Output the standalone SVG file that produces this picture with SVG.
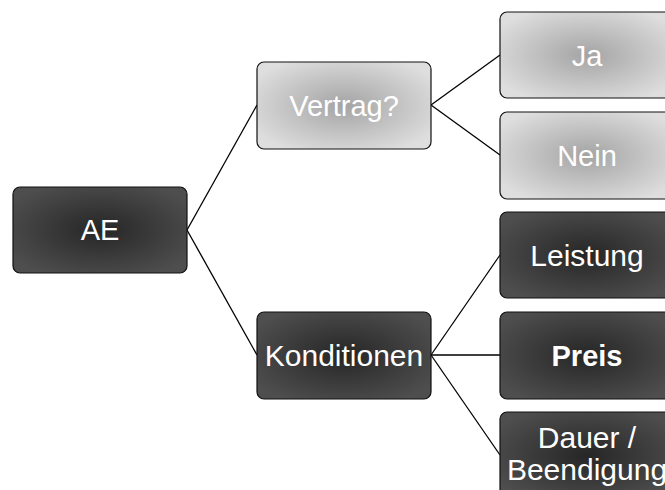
<svg xmlns="http://www.w3.org/2000/svg" width="665" height="490" viewBox="0 0 665 490">
<defs>
<radialGradient id="gDark" cx="50%" cy="50%" r="60%">
<stop offset="0" stop-color="#262626"/>
<stop offset="1" stop-color="#4e4e4e"/>
</radialGradient>
<radialGradient id="gLight" cx="50%" cy="50%" r="60%">
<stop offset="0" stop-color="#a4a4a4"/>
<stop offset="1" stop-color="#dedede"/>
</radialGradient>
<style>
.dark{fill:url(#gDark);stroke:#111;stroke-width:1.2}
.light{fill:url(#gLight);stroke:#111;stroke-width:1.2}
.t{font-family:"Liberation Sans",Arial,sans-serif;font-size:29px;fill:#fff;text-anchor:middle}
.b{font-weight:bold}
.c{stroke:#000;stroke-width:1.3;fill:none}
</style>
</defs>
<rect width="665" height="490" fill="#fff"/>
<g id="connectors">
<line class="c" x1="187" y1="230" x2="257" y2="105"/>
<line class="c" x1="187" y1="230" x2="257" y2="355"/>
<line class="c" x1="431" y1="105" x2="500" y2="55"/>
<line class="c" x1="431" y1="105" x2="500" y2="155"/>
<line class="c" x1="431" y1="355" x2="500" y2="255"/>
<line class="c" x1="431" y1="355" x2="500" y2="355"/>
<line class="c" x1="431" y1="355" x2="500" y2="455"/>
</g>
<g id="ae">
<rect class="dark" x="13" y="187" width="174" height="86" rx="7"/>
<text class="t" x="100" y="240">AE</text>
</g>
<g id="vertrag">
<rect class="light" x="257" y="62" width="174" height="87" rx="7"/>
<text class="t" x="344" y="115.5">Vertrag?</text>
</g>
<g id="konditionen">
<rect class="dark" x="257" y="312" width="174" height="87" rx="7"/>
<text class="t" x="344" y="365.5" style="font-size:30px">Konditionen</text>
</g>
<g id="ja">
<rect class="light" x="500" y="12" width="174" height="86" rx="7"/>
<text class="t" x="587" y="65.5">Ja</text>
</g>
<g id="nein">
<rect class="light" x="500" y="112" width="174" height="87" rx="7"/>
<text class="t" x="587" y="165.5">Nein</text>
</g>
<g id="leistung">
<rect class="dark" x="500" y="212" width="174" height="86" rx="7"/>
<text class="t" x="587" y="265.5" style="font-size:30px">Leistung</text>
</g>
<g id="preis">
<rect class="dark" x="500" y="312" width="174" height="87" rx="7"/>
<text class="t b" x="587" y="365.5">Preis</text>
</g>
<g id="dauer">
<rect class="dark" x="500" y="412" width="174" height="87" rx="7"/>
<text class="t" x="587" y="448" style="font-size:30px">Dauer /</text>
<text class="t" x="587" y="479.5" style="font-size:30px">Beendigung</text>
</g>
</svg>
